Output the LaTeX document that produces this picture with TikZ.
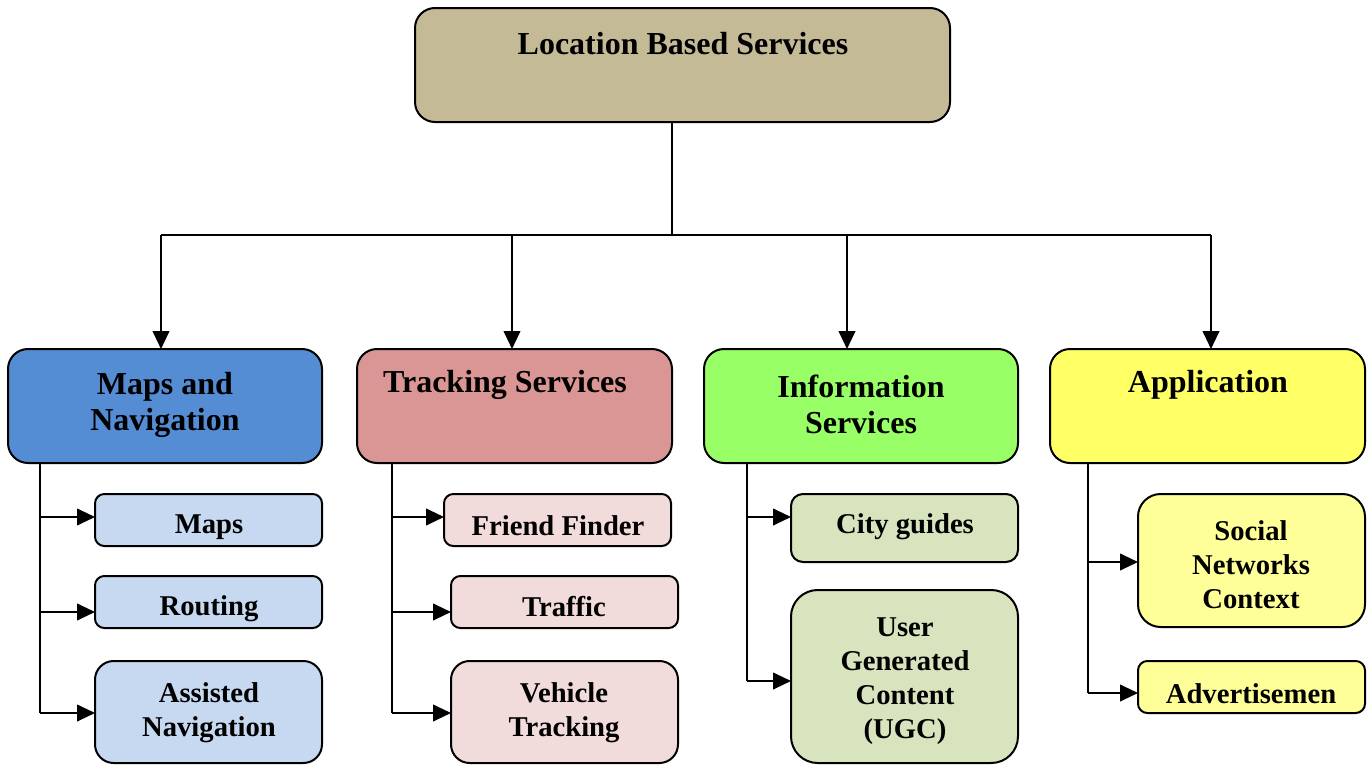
\documentclass[tikz,border=0pt]{standalone}
\usepackage{fontspec}
\setmainfont{Liberation Serif}
\usetikzlibrary{arrows.meta}
\definecolor{cTop}{HTML}{C4BB96}
\definecolor{cMapsNav}{HTML}{548DD4}
\definecolor{cTrack}{HTML}{D99694}
\definecolor{cInfo}{HTML}{99FF66}
\definecolor{cApp}{HTML}{FFFF66}
\definecolor{cMapsC}{HTML}{C6D9F1}
\definecolor{cTrackC}{HTML}{F2DCDB}
\definecolor{cInfoC}{HTML}{D7E4BD}
\definecolor{cAppC}{HTML}{FFFF99}
\begin{document}
\begin{tikzpicture}[x=0.75pt,y=-0.75pt,
  box/.style={draw=black,line width=1.5pt,rectangle,inner sep=0pt,outer sep=0pt},
  bigtxt/.style={font=\bfseries\fontsize{24}{27}\selectfont,align=center,inner sep=0pt},
  smalltxt/.style={font=\bfseries\fontsize{21.5}{25.5}\selectfont,align=center,inner sep=0pt},
  conn/.style={line width=1.5pt},
  arr/.style={line width=1.5pt,-{Triangle[length=13.5pt,width=12.5pt]}}]
\path[use as bounding box] (0,0) rectangle (1372,771);

% top
\node[box,fill=cTop,rounded corners=15pt,minimum width=401.25pt,minimum height=85.5pt] (lbs) at (682.5,65) {};
\node[bigtxt] (lbst) at (683,44) {Location Based Services};

% level 2
\node[box,fill=cMapsNav,rounded corners=15pt,minimum width=235.5pt,minimum height=85.5pt] (mapsnav) at (165,406) {};
\node[bigtxt] (mapsnavt) at (165,405) {Maps and\\Navigation};
\node[box,fill=cTrack,rounded corners=15pt,minimum width=236.25pt,minimum height=85.5pt] (track) at (514.5,406) {};
\node[bigtxt] (trackt) at (505,385) {Tracking Services};
\node[box,fill=cInfo,rounded corners=15pt,minimum width=235.5pt,minimum height=85.5pt] (info) at (861,406) {};
\node[bigtxt] (infot) at (861,404) {Information\\Services};
\node[box,fill=cApp,rounded corners=15pt,minimum width=236.25pt,minimum height=85.5pt] (app) at (1207.5,406) {};
\node[bigtxt] (appt) at (1208,385) {Application};

% children: maps
\node[box,fill=cMapsC,rounded corners=7pt,minimum width=170.25pt,minimum height=39pt] (maps) at (208.5,520) {};
\node[smalltxt] (mapst) at (209,527) {Maps};
\node[box,fill=cMapsC,rounded corners=7pt,minimum width=170.25pt,minimum height=39pt] (routing) at (208.5,602) {};
\node[smalltxt] (routingt) at (209,609) {Routing};
\node[box,fill=cMapsC,rounded corners=14pt,minimum width=170.25pt,minimum height=76.5pt] (assist) at (208.5,712) {};
\node[smalltxt] (assistt) at (209,713) {Assisted\\Navigation};

% children: tracking
\node[box,fill=cTrackC,rounded corners=7pt,minimum width=170.25pt,minimum height=39pt] (friend) at (557.5,520) {};
\node[smalltxt] (friendt) at (558,526) {Friend Finder};
\node[box,fill=cTrackC,rounded corners=7pt,minimum width=170.25pt,minimum height=39pt] (traffic) at (564.5,602) {};
\node[smalltxt] (traffict) at (564,607) {Traffic};
\node[box,fill=cTrackC,rounded corners=14pt,minimum width=170.25pt,minimum height=76.5pt] (vehicle) at (564.5,712) {};
\node[smalltxt] (vehiclet) at (564,713) {Vehicle\\Tracking};

% children: info
\node[box,fill=cInfoC,rounded corners=9pt,minimum width=170.25pt,minimum height=51pt] (city) at (904.5,528) {};
\node[smalltxt] (cityt) at (905,527) {City guides};
\node[box,fill=cInfoC,rounded corners=20pt,minimum width=170.25pt,minimum height=129.75pt] (ugc) at (904.5,676.5) {};
\node[smalltxt] (ugct) at (905,681) {User\\Generated\\Content\\(UGC)};

% children: app
\node[box,fill=cAppC,rounded corners=17pt,minimum width=170.25pt,minimum height=99.75pt] (social) at (1251.5,560.5) {};
\node[smalltxt] (socialt) at (1251,565) {Social\\Networks\\Context};
\node[box,fill=cAppC,rounded corners=7pt,minimum width=170.25pt,minimum height=39pt] (advert) at (1251.5,687) {};
\node[smalltxt] (advertt) at (1251,694) {Advertisemen};

% top connectors
\coordinate (hub) at (672,235);
\coordinate (d1) at (161,235);
\coordinate (d2) at (512,235);
\coordinate (d3) at (847,235);
\coordinate (d4) at (1211,235);
\draw[conn] (lbs.south -| hub) -- (hub);
\draw[conn] (d1) -- (d4);
\draw[arr] (d1) -- (d1 |- mapsnav.north);
\draw[arr] (d2) -- (d2 |- track.north);
\draw[arr] (d3) -- (d3 |- info.north);
\draw[arr] (d4) -- (d4 |- app.north);

% maps column
\coordinate (m1) at (40,517);
\coordinate (m2) at (40,612);
\coordinate (m3) at (40,713);
\draw[conn] (mapsnav.south -| m3) -- (m3);
\draw[arr] (m1) -- (m1 -| maps.west);
\draw[arr] (m2) -- (m2 -| routing.west);
\draw[arr] (m3) -- (m3 -| assist.west);

% tracking column
\coordinate (t1) at (392,517);
\coordinate (t2) at (392,612);
\coordinate (t3) at (392,713);
\draw[conn] (track.south -| t3) -- (t3);
\draw[arr] (t1) -- (t1 -| friend.west);
\draw[arr] (t2) -- (t2 -| traffic.west);
\draw[arr] (t3) -- (t3 -| vehicle.west);

% info column
\coordinate (i1) at (747,517);
\coordinate (i2) at (747,681);
\draw[conn] (info.south -| i2) -- (i2);
\draw[arr] (i1) -- (i1 -| city.west);
\draw[arr] (i2) -- (i2 -| ugc.west);

% app column
\coordinate (a1) at (1088,562);
\coordinate (a2) at (1088,693);
\draw[conn] (app.south -| a2) -- (a2);
\draw[arr] (a1) -- (a1 -| social.west);
\draw[arr] (a2) -- (a2 -| advert.west);
\end{tikzpicture}
\end{document}
